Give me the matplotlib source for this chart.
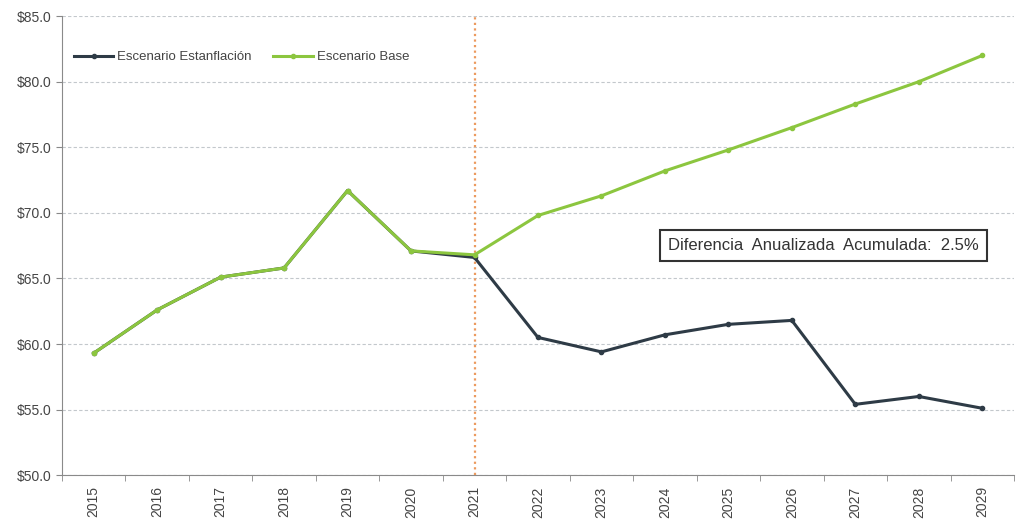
import matplotlib
matplotlib.use("Agg")
import matplotlib.pyplot as plt
import numpy as np

years = [str(y) for y in range(2015, 2030)]
estanflacion = [59.3, 62.6, 65.1, 65.8, 71.7, 67.1, 66.6, 60.5, 59.4, 60.7, 61.5, 61.8, 55.4, 56.0, 55.1]
base = [59.3, 62.6, 65.1, 65.8, 71.7, 67.1, 66.8, 69.8, 71.3, 73.2, 74.8, 76.5, 78.3, 80.0, 82.0]
y_ticks = [50, 55, 60, 65, 70, 75, 80, 85]
split_year = "2021"
note = "Diferencia  Anualizada  Acumulada:  2.5%"

plt.rcParams["font.family"] = ["Liberation Sans Narrow", "Liberation Sans", "DejaVu Sans"]

DARK = "#2e3b46"
GREEN = "#8cc63f"
GRID = "#c3c8cc"
TEXT = "#444444"

fig = plt.figure(figsize=(10.16, 5.21), dpi=100)
ax = fig.add_axes([0.061, 0.088, 0.937, 0.881])

x = np.arange(len(years))
ax.plot(x, estanflacion, color=DARK, linewidth=2.2, marker="o", markersize=3,
        label="Escenario Estanflación", zorder=3)
ax.plot(x, base, color=GREEN, linewidth=2.2, marker="o", markersize=3,
        label="Escenario Base", zorder=4)

ax.axvline(years.index(split_year), color="#ec9a5e", linestyle=(0, (1, 1.5)),
           linewidth=1.6, zorder=2)

ax.set_xlim(-0.5, len(years) - 0.5)
ax.set_ylim(y_ticks[0], y_ticks[-1])
ax.set_yticks(y_ticks)
ax.set_yticklabels([f"${v:.1f}" for v in y_ticks])
ax.yaxis.grid(True, color=GRID, linestyle=(0, (3, 2)), linewidth=0.8)
ax.set_axisbelow(True)

# category labels centred, tick marks between categories
ax.set_xticks(x)
ax.set_xticklabels(years, rotation=90)
ax.set_xticks(np.arange(-0.5, len(years)), minor=True)
ax.tick_params(axis="x", which="major", length=0, pad=8)
ax.tick_params(axis="x", which="minor", length=4, color="#888888")
ax.tick_params(axis="y", length=4, color="#888888")
ax.tick_params(labelsize=10, labelcolor=TEXT)

for side in ("top", "right"):
    ax.spines[side].set_visible(False)
for side in ("left", "bottom"):
    ax.spines[side].set_color("#8a8a8a")

ax.legend(loc="upper left", bbox_to_anchor=(0.0, 0.95), ncol=2, frameon=False,
          fontsize=9.5, handlelength=3, handletextpad=0.3, columnspacing=1.6,
          labelcolor=TEXT)

ax.text(0.80, 0.50, note, transform=ax.transAxes, ha="center", va="center",
        fontsize=12, color="#333333",
        bbox=dict(boxstyle="square,pad=0.5", facecolor="white",
                  edgecolor="#333333", linewidth=1.5))

fig.savefig("out.png", dpi=100)
